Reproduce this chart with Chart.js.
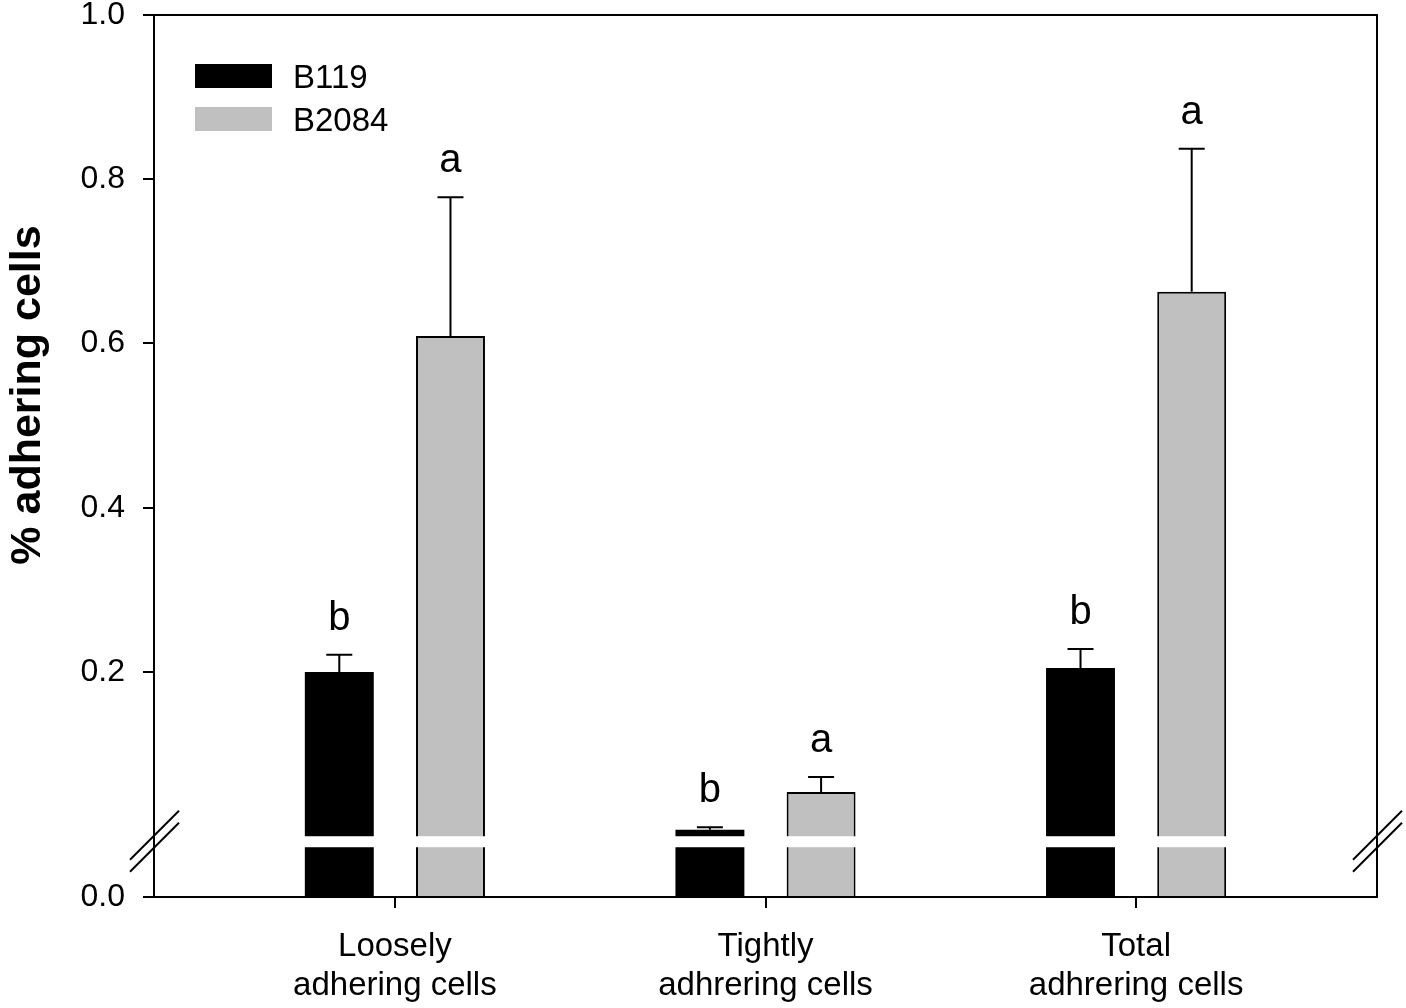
<!DOCTYPE html>
<html>
<head>
<meta charset="utf-8">
<title>% adhering cells</title>
<script src="https://cdn.jsdelivr.net/npm/chart.js@4.4.1/dist/chart.umd.min.js"></script>
<style>
  html, body { margin: 0; padding: 0; background: #fff; }
  #wrap { width: 1406px; height: 1008px; }
</style>
</head>
<body>
<div id="wrap"><canvas id="myChart" width="1406" height="1008"></canvas></div>
<script>
const categories = [['Loosely', 'adhering cells'], ['Tightly', 'adhrering cells'], ['Total', 'adhrering cells']];
const seriesNames = ['B119', 'B2084'];
const b119 = [0.200, 0.008, 0.205];
const b2084 = [0.609, 0.054, 0.663];
const b119Err = [0.021, 0.003, 0.023];
const b2084Err = [0.169, 0.018, 0.174];
const b119Letters = ['b', 'b', 'b'];
const b2084Letters = ['a', 'a', 'a'];
const yTicks = [0.0, 0.2, 0.4, 0.6, 0.8, 1.0];

// axis is broken just above zero; the short piece under the break sits down to here
const brokenBottom = -0.074;
const FONT = "'Liberation Sans', Arial, Helvetica, sans-serif";

const errs = [b119Err, b2084Err];
const letters = [b119Letters, b2084Letters];

const extras = {
  id: 'extras',
  afterDatasetsDraw(chart) {
    const ctx = chart.ctx;
    const area = chart.chartArea;
    const y = chart.scales.y;
    const breakTop = y.getPixelForValue(0);
    ctx.save();

    // white gap through the bars
    ctx.fillStyle = '#fff';
    ctx.fillRect(area.left, breakTop, area.right - area.left, 11);

    // error bars and letters
    ctx.strokeStyle = '#000';
    ctx.lineWidth = 2;
    chart.data.datasets.forEach((ds, i) => {
      chart.getDatasetMeta(i).data.forEach((bar, j) => {
        const top = y.getPixelForValue(ds.data[j].y + errs[i][j]);
        ctx.beginPath();
        ctx.moveTo(bar.x, bar.y);
        ctx.lineTo(bar.x, top);
        ctx.moveTo(bar.x - 13, top);
        ctx.lineTo(bar.x + 13, top);
        ctx.stroke();
        ctx.fillStyle = '#000';
        ctx.font = '40px ' + FONT;
        ctx.textAlign = 'center';
        ctx.textBaseline = 'alphabetic';
        ctx.fillText(letters[i][j], bar.x, top - 25);
      });
    });

    // frame
    ctx.strokeRect(area.left, area.top, area.right - area.left, area.bottom - area.top);

    // break marks
    const mid = breakTop + 5.5;
    [area.left, area.right].forEach(x => {
      [-6, 6].forEach(d => {
        ctx.beginPath();
        ctx.moveTo(x - 24, mid + d + 24);
        ctx.lineTo(x + 25, mid + d - 25);
        ctx.stroke();
      });
    });

    // legend
    chart.data.datasets.forEach((ds, i) => {
      const bx = area.left + 41;
      const by = area.top + 49 + i * 43;
      ctx.fillStyle = ds.backgroundColor;
      ctx.fillRect(bx, by, 77, 24);
      ctx.fillStyle = '#000';
      ctx.font = '33px ' + FONT;
      ctx.textAlign = 'left';
      ctx.textBaseline = 'alphabetic';
      ctx.fillText(ds.label, bx + 98, by + 24);
    });

    // y title
    ctx.translate(28, 395);
    ctx.rotate(-Math.PI / 2);
    ctx.font = 'bold 43px ' + FONT;
    ctx.textAlign = 'center';
    ctx.textBaseline = 'middle';
    ctx.fillStyle = '#000';
    ctx.fillText('% adhering cells', 0, 0);
    ctx.restore();
  }
};

let ctx = document.getElementById('myChart');
let myChart = new Chart(ctx, {
  type: 'bar',
  data: {
    datasets: [{
      label: seriesNames[0],
      data: b119.map((v, i) => ({ x: i + 1, y: v })),
      backgroundColor: '#000000',
      borderColor: '#000000',
      borderWidth: 0,
      base: brokenBottom
    }, {
      label: seriesNames[1],
      data: b2084.map((v, i) => ({ x: i + 1, y: v })),
      backgroundColor: '#c0c0c0',
      borderColor: '#000000',
      borderWidth: 2,
      borderSkipped: 'start',
      base: brokenBottom
    }]
  },
  options: {
    responsive: false,
    animation: false,
    categoryPercentage: 0.6,
    barPercentage: 0.62,
    layout: { padding: { top: 15, right: 29, left: 0, bottom: 0 } },
    scales: {
      x: {
        type: 'linear',
        min: 0.35,
        max: 3.65,
        offset: false,
        afterBuildTicks: s => { s.ticks = categories.map((c, i) => ({ value: i + 1 })); },
        afterFit: s => { s.height = 111; s.paddingLeft = 0; s.paddingRight = 0; },
        ticks: {
          callback: v => categories[Math.round(v) - 1],
          color: '#000',
          font: { family: FONT, size: 33 },
          padding: 19,
          maxRotation: 0,
          autoSkip: false
        },
        grid: { offset: false, drawOnChartArea: false, tickLength: 11, color: '#000', lineWidth: 2 },
        border: { display: false }
      },
      y: {
        min: brokenBottom,
        max: 1.0,
        afterBuildTicks: s => { s.ticks = yTicks.map(v => ({ value: v === 0 ? brokenBottom : v })); },
        afterFit: s => { s.width = 154; s.paddingTop = 0; s.paddingBottom = 0; },
        ticks: {
          callback: v => (v < 0 ? 0 : v).toFixed(1),
          color: '#000',
          font: { family: FONT, size: 32 },
          padding: 18,
          autoSkip: false
        },
        grid: { drawOnChartArea: false, tickLength: 11, color: '#000', lineWidth: 2 },
        border: { display: false }
      }
    },
    plugins: {
      legend: { display: false },
      tooltip: { enabled: false }
    }
  },
  plugins: [extras]
});
</script>
</body>
</html>
